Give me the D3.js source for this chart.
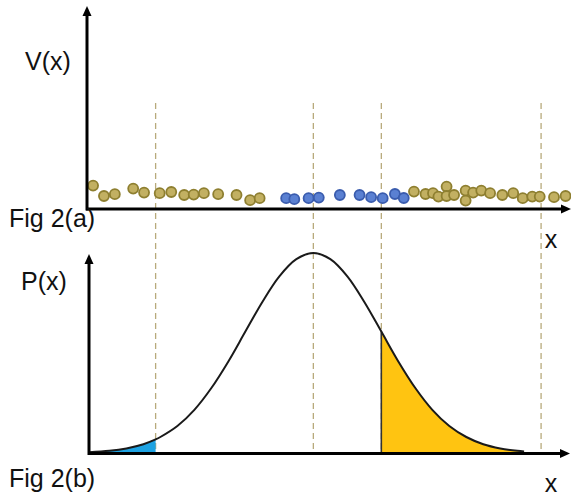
<!DOCTYPE html>
<html>
<head>
<meta charset="utf-8">
<script src="https://cdn.jsdelivr.net/npm/d3@7"></script>
<style>
  html, body { margin: 0; padding: 0; background: #fff; }
  svg { display: block; }
  text { font-family: "Liberation Sans", Arial, sans-serif; fill: #111; }
</style>
</head>
<body>
<svg id="chart" width="571" height="498"></svg>
<script>
// ---- data (x in units of the distribution's standard deviation) ----
const goldLeftX  = [-3.24, -3.08, -2.92, -2.65, -2.49, -2.26, -2.09, -1.90, -1.76, -1.61, -1.40, -1.13, -0.93, -0.79];
const goldLeftV  = [1.17, 0.65, 0.74, 1.02, 0.82, 0.79, 0.85, 0.70, 0.72, 0.79, 0.74, 0.70, 0.44, 0.54];
const blueX      = [-0.40, -0.28, -0.07, 0.08, 0.39, 0.68, 0.85, 1.02, 1.20, 1.33];
const blueV      = [0.54, 0.49, 0.54, 0.57, 0.70, 0.70, 0.59, 0.54, 0.75, 0.55];
const goldRightX = [1.48, 1.65, 1.76, 1.84, 1.96, 1.96, 2.07, 2.24, 2.24, 2.35, 2.47, 2.60, 2.78, 2.94, 3.08, 3.22, 3.33, 3.54, 3.71];
const goldRightV = [0.87, 0.75, 0.79, 0.62, 1.12, 0.65, 0.70, 0.92, 0.42, 0.82, 0.92, 0.79, 0.70, 0.79, 0.54, 0.62, 0.62, 0.59, 0.65];

const curveX = [-3.3, -3.0, -2.75, -2.5, -2.32, -2.25, -2.0, -1.75, -1.5, -1.25, -1.0, -0.75, -0.5, -0.25, 0,
                0.25, 0.5, 0.75, 1.0, 1.25, 1.5, 1.75, 2.0, 2.25, 2.5, 2.75, 3.0, 3.1];
const curveP = [0.004, 0.011, 0.023, 0.044, 0.068, 0.080, 0.135, 0.216, 0.325, 0.458, 0.607, 0.755, 0.883, 0.969, 1.0,
                0.969, 0.883, 0.755, 0.607, 0.458, 0.325, 0.216, 0.135, 0.080, 0.044, 0.023, 0.011, 0.008];

const markerX = [-2.32, 0, 1.0, 3.35];   // dashed guide lines
const leftTailEnd = -2.32;                // blue shaded tail
const rightTailStart = 1.0;               // yellow shaded tail

const labels = { topY: "V(x)", topFig: "Fig 2(a)", topX: "x", botY: "P(x)", botFig: "Fig 2(b)", botX: "x" };

// ---- scales ----
const svg = d3.select("#chart");
const x = d3.scaleLinear().domain([-3.3, 3.79]).range([89, 571]);
const yTop = d3.scaleLinear().domain([0, 10]).range([209, 9]);
const yBot = d3.scaleLinear().domain([0, 1]).range([453, 253]);

// ---- dashed guide lines ----
svg.append("g").selectAll("line").data(markerX).join("line")
  .attr("x1", d => x(d)).attr("x2", d => x(d))
  .attr("y1", 103).attr("y2", yBot(0))
  .attr("stroke", "#b8aa7c").attr("stroke-width", 1.3)
  .attr("stroke-dasharray", "6,4");

// ---- bottom panel: areas + curve ----
const pts = curveX.map((d, i) => ({ x: d, p: curveP[i] }));
const area = d3.area().x(d => x(d.x)).y0(yBot(0)).y1(d => yBot(d.p)).curve(d3.curveCatmullRom);
const line = d3.line().x(d => x(d.x)).y(d => yBot(d.p)).curve(d3.curveCatmullRom);

svg.append("path").datum(pts.filter(d => d.x <= leftTailEnd))
  .attr("d", area).attr("fill", "#1ea3e3");
svg.append("path").datum(pts.filter(d => d.x >= rightTailStart))
  .attr("d", area).attr("fill", "#ffc411");

const edgeP = curveP[curveX.indexOf(rightTailStart)];
svg.append("line")
  .attr("x1", x(rightTailStart)).attr("x2", x(rightTailStart))
  .attr("y1", yBot(edgeP)).attr("y2", yBot(0))
  .attr("stroke", "#333").attr("stroke-width", 1.6);

svg.append("path").datum(pts).attr("d", line)
  .attr("fill", "none").attr("stroke", "#1a1a1a").attr("stroke-width", 2);

// ---- top panel: dots ----
function dots(xs, vs, fill, stroke) {
  svg.append("g").selectAll("circle").data(xs.map((d, i) => ({ x: d, v: vs[i] }))).join("circle")
    .attr("cx", d => x(d.x)).attr("cy", d => yTop(d.v)).attr("r", 5)
    .attr("fill", fill).attr("stroke", stroke).attr("stroke-width", 1.8);
}
dots(goldLeftX, goldLeftV, "#c2b062", "#8e7f30");
dots(blueX, blueV, "#5a80d2", "#3a5cae");
dots(goldRightX, goldRightV, "#c2b062", "#8e7f30");

// ---- axes with arrows ----
const axisColor = "#000";
function arrowHead(cx, cy, dir) {
  // dir: "up" or "right"; (cx, cy) is the tip
  const p = dir === "up"
    ? [[cx, cy], [cx - 4.5, cy + 10], [cx + 4.5, cy + 10]]
    : [[cx, cy], [cx - 10, cy - 4.5], [cx - 10, cy + 4.5]];
  svg.append("path").attr("d", d3.line()(p) + "Z").attr("fill", axisColor);
}
const axes = svg.append("g");
// top panel
axes.append("g").attr("transform", "translate(0," + yTop(0) + ")")
  .call(d3.axisBottom(x).ticks(0).tickSizeOuter(0))
  .call(g => g.select(".domain").attr("stroke-width", 3).attr("d", "M86,0H562"));
axes.append("g").attr("transform", "translate(87,0)")
  .call(d3.axisLeft(yTop).ticks(0).tickSizeOuter(0))
  .call(g => g.select(".domain").attr("stroke-width", 3).attr("d", "M0," + (yTop(0) + 1.5) + "V16"));
arrowHead(571, yTop(0), "right");
arrowHead(87, 6, "up");
// bottom panel
axes.append("g").attr("transform", "translate(0," + (yBot(0) + 0.5) + ")")
  .call(d3.axisBottom(x).ticks(0).tickSizeOuter(0))
  .call(g => g.select(".domain").attr("stroke-width", 3).attr("d", "M88,0H561"));
axes.append("g").attr("transform", "translate(89,0)")
  .call(d3.axisLeft(yBot).ticks(0).tickSizeOuter(0))
  .call(g => g.select(".domain").attr("stroke-width", 3).attr("d", "M0," + (yBot(0) + 2) + "V264"));
arrowHead(570, yBot(0) + 0.5, "right");
arrowHead(89, 254, "up");

// ---- labels ----
const t = svg.append("g").style("font-size", "25px");
t.append("text").attr("x", 25).attr("y", 70).text(labels.topY);
t.append("text").attr("x", 9).attr("y", 227).text(labels.topFig);
t.append("text").attr("x", 551).attr("y", 248).attr("text-anchor", "middle").text(labels.topX);
t.append("text").attr("x", 21).attr("y", 290).text(labels.botY);
t.append("text").attr("x", 9).attr("y", 487).text(labels.botFig);
t.append("text").attr("x", 551).attr("y", 492).attr("text-anchor", "middle").text(labels.botX);
</script>
</body>
</html>
